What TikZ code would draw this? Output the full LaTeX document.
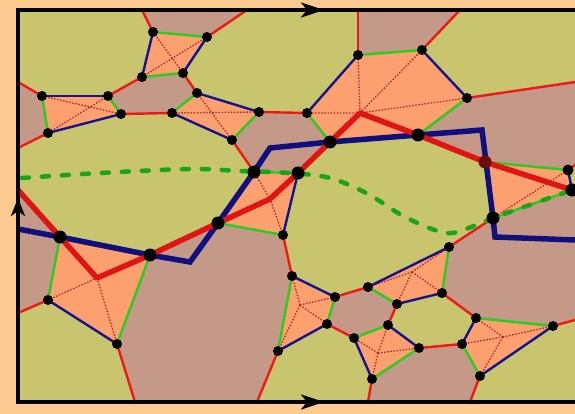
\documentclass[tikz,border=0pt]{standalone}
\usetikzlibrary{arrows.meta}

\definecolor{outerbg}{RGB}{253,203,145}
\definecolor{cellolive}{RGB}{201,197,110}
\definecolor{cellbrown}{RGB}{196,153,135}
\definecolor{cellsalmon}{RGB}{253,160,112}
\definecolor{edgered}{RGB}{238,25,25}
\definecolor{edgeblue}{RGB}{20,20,140}
\definecolor{edgegreen}{RGB}{40,205,30}
\definecolor{pathred}{RGB}{225,20,20}
\definecolor{pathblue}{RGB}{15,15,125}
\definecolor{dashgreen}{RGB}{25,165,25}
\definecolor{diagred}{RGB}{165,45,40}
\definecolor{junction}{RGB}{105,12,12}

\tikzset{
  redge/.style={draw=edgered, line width=2.4pt, line cap=round},
  bedge/.style={draw=edgeblue, line width=2.4pt, line cap=round},
  gedge/.style={draw=edgegreen, line width=2.4pt, line cap=round},
  diag/.style={draw=diagred, line width=1.3pt, dash pattern=on 1.5pt off 1.6pt},
  thickred/.style={draw=pathred, line width=5.5pt, line join=round},
  thickblue/.style={draw=pathblue, line width=5.5pt, line join=miter},
  dashcurve/.style={draw=dashgreen, line width=4.5pt, line cap=round, dash pattern=on 7pt off 13pt},
  framed/.style={draw=black, line width=3.2pt},
}

\begin{document}
\begin{tikzpicture}[x=1pt, y=-1pt]
\useasboundingbox (0,0) rectangle (575,414);
\fill[outerbg] (0,0) rectangle (575,414);

% frame corners and points where cell edges meet the frame
\coordinate (TL) at (18,10);  \coordinate (TR) at (575,10);
\coordinate (BL) at (18,402); \coordinate (BR) at (575,402);
\coordinate (t1) at (142,10); \coordinate (t2) at (247,10);
\coordinate (t3) at (358,10); \coordinate (t4) at (460,10);
\coordinate (l1) at (18,82);  \coordinate (l2) at (18,148);
\coordinate (l3) at (18,190); \coordinate (l4) at (18,313);
\coordinate (r1) at (575,82); \coordinate (r2) at (575,165);
\coordinate (r3) at (575,193); \coordinate (r4) at (575,320);
\coordinate (b1) at (135,402); \coordinate (b2) at (257,402);
\coordinate (b3) at (368,402); \coordinate (b4) at (470,402);

% cell vertices
\coordinate (a1) at (153,32);  \coordinate (a2) at (207,37);
\coordinate (a3) at (183,73);  \coordinate (a4) at (142,77);
\coordinate (q1) at (42,96);   \coordinate (q2) at (108,96);
\coordinate (q3) at (121,114); \coordinate (q4) at (48,133);
\coordinate (c1) at (172,113); \coordinate (c2) at (197,93);
\coordinate (c3) at (259,112); \coordinate (c4) at (232,140);
\coordinate (d1) at (307,113); \coordinate (d2) at (358,55);
\coordinate (d3) at (422,50);  \coordinate (d4) at (467,98);
\coordinate (d5) at (418,135); \coordinate (d6) at (330,142);
\coordinate (e1) at (298,173); \coordinate (e2) at (254,172);
\coordinate (e3) at (218,223); \coordinate (e4) at (283,235);
\coordinate (f1) at (485,162); \coordinate (f2) at (568,170);
\coordinate (f3) at (572,190); \coordinate (f4) at (493,218);
\coordinate (g1) at (60,237);  \coordinate (g2) at (150,255);
\coordinate (g3) at (117,344); \coordinate (g4) at (48,300);
\coordinate (h1) at (449,247); \coordinate (h2) at (368,287);
\coordinate (h3) at (397,304); \coordinate (h4) at (442,293);
\coordinate (i1) at (292,276); \coordinate (i2) at (335,297);
\coordinate (i3) at (327,324); \coordinate (i4) at (278,351);
\coordinate (j1) at (354,338); \coordinate (j2) at (388,325);
\coordinate (j3) at (419,348); \coordinate (j4) at (372,379);
\coordinate (k1) at (476,318); \coordinate (k2) at (553,326);
\coordinate (k3) at (480,376); \coordinate (k4) at (462,344);

% centres of the quadrilateral cells
\coordinate (dc) at (360,113); \coordinate (ec) at (270,199);
\coordinate (gc) at (97,278);  \coordinate (hc) at (412,272);
\coordinate (ic) at (300,305); \coordinate (jc) at (378,353);
\coordinate (kc) at (503,337);

% corners of the blue path
\coordinate (bs) at (18,229);  \coordinate (bk1) at (190,262);
\coordinate (bk2) at (270,148); \coordinate (bk3) at (482,130);
\coordinate (bk4) at (495,237); \coordinate (be) at (575,240);

% cells
\fill[cellbrown] (TL) rectangle (BR);
\fill[cellolive] (TL) -- (t1) -- (a1) -- (a4) -- (q2) -- (q1) -- (l1) -- cycle;
\fill[cellolive] (t2) -- (a2) -- (a3) -- (c2) -- (c3) -- (d1) -- (d2) -- (t3) -- cycle;
\fill[cellolive] (t4) -- (d3) -- (d4) -- (r1) -- (TR) -- cycle;
\fill[cellolive] (l2) -- (q4) -- (q3) -- (c1) -- (c4) -- (e2) -- (e3) -- (g2) -- (g1) -- (l3) -- cycle;
\fill[cellolive] (d6) -- (d5) -- (f1) -- (f4) -- (h1) -- (h2) -- (i2) -- (i1) -- (e4) -- (e1) -- cycle;
\fill[cellolive] (f2) -- (r2) -- (r3) -- (f3) -- cycle;
\fill[cellolive] (h3) -- (h4) -- (k1) -- (k4) -- (j3) -- (j2) -- cycle;
\fill[cellolive] (i4) -- (i3) -- (j1) -- (j4) -- (b3) -- (b2) -- cycle;
\fill[cellolive] (b4) -- (k3) -- (k2) -- (r4) -- (BR) -- cycle;
\fill[cellolive] (l4) -- (g4) -- (g3) -- (b1) -- (BL) -- cycle;

\fill[cellsalmon] (a1) -- (a2) -- (a3) -- (a4) -- cycle;
\fill[cellsalmon] (q1) -- (q2) -- (q3) -- (q4) -- cycle;
\fill[cellsalmon] (c1) -- (c2) -- (c3) -- (c4) -- cycle;
\fill[cellsalmon] (d1) -- (d2) -- (d3) -- (d4) -- (d5) -- (d6) -- cycle;
\fill[cellsalmon] (e2) -- (e1) -- (e4) -- (e3) -- cycle;
\fill[cellsalmon] (f1) -- (f2) -- (f3) -- (f4) -- cycle;
\fill[cellsalmon] (g1) -- (g2) -- (g3) -- (g4) -- cycle;
\fill[cellsalmon] (h1) -- (h2) -- (h3) -- (h4) -- cycle;
\fill[cellsalmon] (i1) -- (i2) -- (i3) -- (i4) -- cycle;
\fill[cellsalmon] (j1) -- (j2) -- (j3) -- (j4) -- cycle;
\fill[cellsalmon] (k1) -- (k2) -- (k3) -- (k4) -- cycle;

% dotted triangulation inside the quadrilaterals
\draw[diag] (a1) -- (a3) (a2) -- (a4);
\draw[diag] (q1) -- (q3) (q2) -- (q4);
\draw[diag] (c1) -- (c3) (c2) -- (c4);
\draw[diag] (dc) -- (d1) (dc) -- (d2) (dc) -- (d3) (dc) -- (d4);
\draw[diag] (e2) -- (ec) -- (e4);
\draw[diag] (f4) -- (f2);
\draw[diag] (gc) -- (g4) (gc) -- (g3);
\foreach \p in {h,i,j,k}{
  \draw[diag] (\p c) -- (\p 1) (\p c) -- (\p 2) (\p c) -- (\p 3) (\p c) -- (\p 4);
}

% cell edges
\foreach \u/\v in {t1/a1, a2/t2, a4/q2, a3/c2, q1/l1, q3/c1, q4/l2, c3/d1,
                   c4/e2, d2/t3, d3/t4, d4/r1, f2/r2, f4/h1, h4/k1, h2/i2,
                   h3/j2, i3/j1, i4/b2, j4/b3, j3/k4, k3/b4, k2/r4, i1/e4,
                   g4/l4, g3/b1, l3/g1, d5/f1, e1/d6, g2/e3}
  \draw[redge] (\u) -- (\v);
\foreach \u/\v in {a2/a3, a4/a1, q1/q2, q3/q4, c2/c3, c4/c1, d1/d2, d3/d4,
                   d5/d6, e1/e4, e3/e2, f2/f3, f4/f1, g1/g2, g3/g4, h1/h2,
                   h3/h4, i1/i2, i3/i4, j2/j3, j4/j1, k2/k3, k4/k1}
  \draw[bedge] (\u) -- (\v);
\foreach \u/\v in {a1/a2, a3/a4, q2/q3, q4/q1, c1/c2, c3/c4, d2/d3, d4/d5,
                   d6/d1, e2/e1, e4/e3, f1/f2, f3/f4, g2/g3, g4/g1, h2/h3,
                   h4/h1, i2/i3, i4/i1, j1/j2, j3/j4, k1/k2, k3/k4}
  \draw[gedge] (\u) -- (\v);

% the two thick paths
\draw[thickblue] (bs) -- (g1) -- (g2) -- (bk1) -- (e3) -- (e2) -- (bk2) -- (d6)
  -- (d5) -- (bk3) -- (f4) -- (bk4) -- (be);
\draw[thickred] (l3) -- (g1) -- (gc) -- (g2) -- (e3) -- (ec) -- (e1) -- (d6)
  -- (dc) -- (d5) -- (f1) -- (f3);

% dashed curve
\draw[dashcurve] plot[smooth, tension=0.55] coordinates {(22,178) (100,173)
  (190,169) (240,171) (290,173) (330,178) (368,194) (405,217) (446,233)
  (474,226) (f4) (535,203) (f3)};

% frame with orientation arrows
\draw[framed] (TR) -- (TL) -- (BL) -- (BR);
\draw[framed, -{Stealth[length=23pt, width=15pt, inset=6pt]}] (296,10) -- (324,10);
\draw[framed, -{Stealth[length=23pt, width=15pt, inset=6pt]}] (296,402) -- (324,402);
\draw[framed, -{Stealth[length=18pt, width=14pt, inset=5pt]}] (18,222) -- (18,198);

% vertices
\foreach \p in {a1,a2,a3,a4,q1,q2,q3,q4,c1,c2,c3,c4,d1,d2,d3,d4,e4,
                g3,g4,h1,h2,h3,h4,i1,i2,i3,i4,j1,j2,j3,j4,k1,k2,k3,k4}
  \fill[black] (\p) circle (5);
\fill[black] (f2) circle (5.5);
\foreach \p in {g1,g2,e3,e2,e1,d6,d5,f4,f3}
  \fill[black] (\p) circle (6.5);
\fill[junction] (f1) circle (6.5);
\end{tikzpicture}
\end{document}
